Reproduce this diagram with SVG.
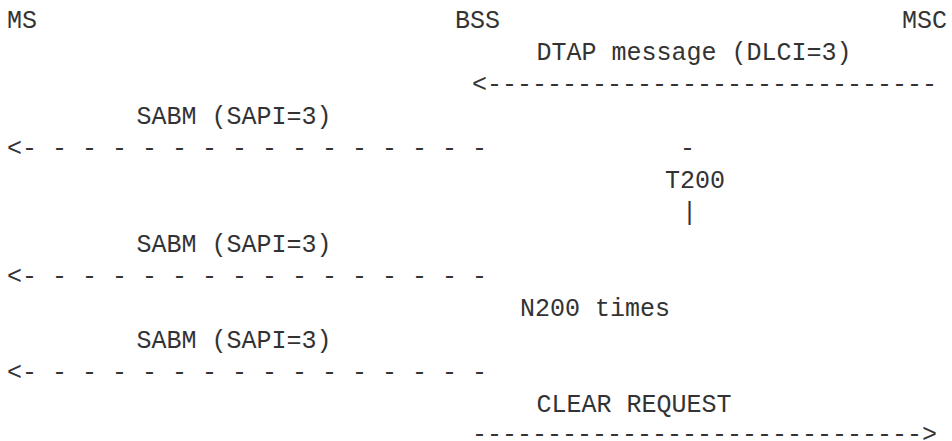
<svg xmlns="http://www.w3.org/2000/svg" width="952" height="441" viewBox="0 0 952 441">
<style>
text { font-family: "Liberation Mono", "Courier New", monospace; font-size: 25px; fill: #333; white-space: pre; }
</style>
<rect width="952" height="441" fill="#fff"/>
<g id="node-ms"><text x="7" y="28">MS</text></g>
<g id="node-bss"><text x="455" y="28">BSS</text></g>
<g id="node-msc"><text x="902" y="28">MSC</text></g>
<g id="connectors">
<text x="536.5" y="60">DTAP message (DLCI=3)</text>
<text x="472" y="92">&lt;------------------------------</text>
<text x="136.5" y="124">SABM (SAPI=3)</text>
<text x="7" y="156">&lt;- - - - - - - - - - - - - - - -</text>
<text x="680" y="156">-</text>
<text x="665" y="188">T200</text>
<text x="682" y="220">|</text>
<text x="136.5" y="252">SABM (SAPI=3)</text>
<text x="7" y="284">&lt;- - - - - - - - - - - - - - - -</text>
<text x="520" y="316">N200 times</text>
<text x="136.5" y="348">SABM (SAPI=3)</text>
<text x="7" y="380">&lt;- - - - - - - - - - - - - - - -</text>
<text x="536.5" y="412">CLEAR REQUEST</text>
<text x="472" y="442">------------------------------&gt;</text>
</g>
</svg>
